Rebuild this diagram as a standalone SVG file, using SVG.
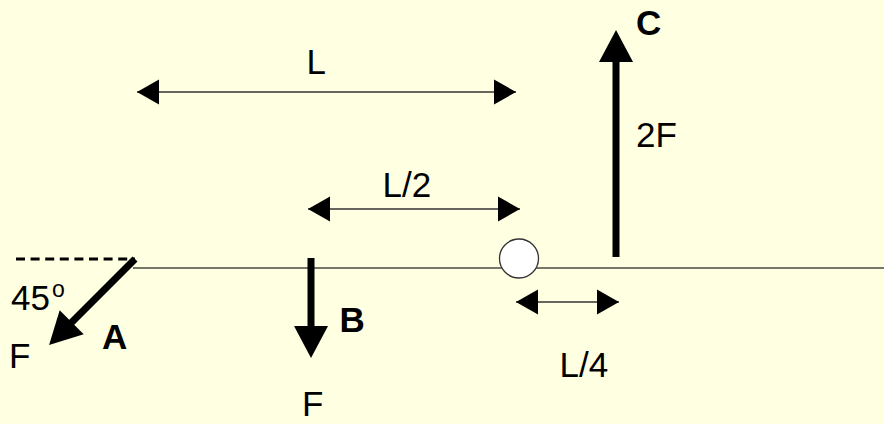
<svg xmlns="http://www.w3.org/2000/svg" width="884" height="424" viewBox="0 0 884 424">
<defs>
<marker id="dim" markerUnits="userSpaceOnUse" markerWidth="24" markerHeight="26" refX="22" refY="12.5" orient="auto-start-reverse" overflow="visible">
<path d="M0,0 L22,12.5 L0,25 z" fill="#000"/>
</marker>
<marker id="force" markerUnits="userSpaceOnUse" markerWidth="34" markerHeight="36" refX="1" refY="17" orient="auto" overflow="visible">
<path d="M0,0 L32,17 L0,34 z" fill="#000"/>
</marker>
</defs>
<style>
text{font-family:"Liberation Sans",Arial,sans-serif;font-size:35px;fill:#000}
.b{font-weight:bold}
.axis{stroke:#4a4a40;stroke-width:1.5;fill:none}
.dimline{stroke:#333;stroke-width:1.3;fill:none;marker-start:url(#dim);marker-end:url(#dim)}
.force{stroke:#000;stroke-width:7;fill:none;marker-end:url(#force)}
</style>
<rect width="884" height="424" fill="#FFFFE1"/>
<g id="beam">
<line class="axis" x1="133" y1="268" x2="884" y2="268"/>
<line x1="16" y1="259" x2="135" y2="259" stroke="#000" stroke-width="3" stroke-dasharray="9 5.6"/>
</g>
<g id="connectors">
<line class="dimline" x1="137" y1="92" x2="516" y2="92"/>
<line class="dimline" x1="308" y1="209" x2="520" y2="209"/>
<line class="dimline" x1="516" y1="302" x2="619" y2="302"/>
</g>
<g id="pivot">
<circle cx="519" cy="258.5" r="19.5" fill="#fff" stroke="#333" stroke-width="1.3"/>
</g>
<g id="forceA">
<line class="force" x1="135" y1="259" x2="71" y2="323"/>
<text class="b" x="102" y="349">A</text>
<text x="9" y="368">F</text>
<text x="11" y="310">45</text>
<text x="52" y="297" style="font-size:23px">o</text>
</g>
<g id="forceB">
<line class="force" x1="311" y1="258" x2="311" y2="327"/>
<text class="b" x="339.5" y="332">B</text>
<text x="302" y="416">F</text>
</g>
<g id="forceC">
<line class="force" x1="616" y1="257" x2="616" y2="61"/>
<text class="b" x="636" y="35">C</text>
<text x="636" y="147">2F</text>
</g>
<g id="labels">
<text x="306.5" y="74">L</text>
<text x="382.5" y="197">L/2</text>
<text x="559.5" y="377">L/4</text>
</g>
</svg>
